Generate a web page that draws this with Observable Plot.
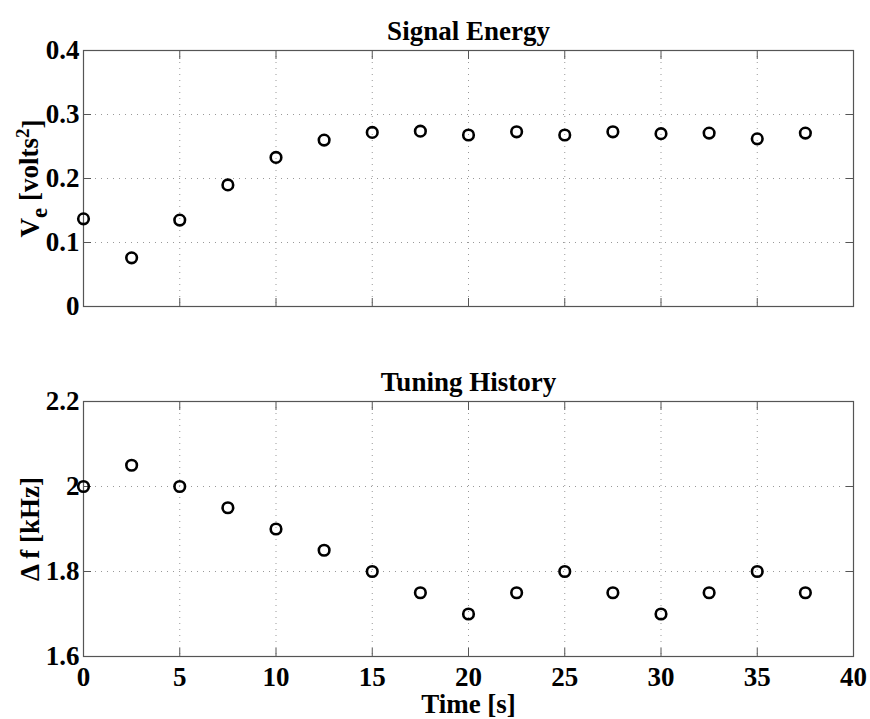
<!DOCTYPE html>
<html>
<head>
<meta charset="utf-8">
<script src="https://cdn.jsdelivr.net/npm/d3@7"></script>
<script src="https://cdn.jsdelivr.net/npm/@observablehq/plot@0.6"></script>
<style>
  body { margin: 0; background: white; }
  #chart svg { display: block; }
</style>
</head>
<body>
<div id="chart"></div>
<script>
// ---- data ----
const time = [0, 2.5, 5, 7.5, 10, 12.5, 15, 17.5, 20, 22.5, 25, 27.5, 30, 32.5, 35, 37.5];
const energy = [0.137, 0.076, 0.135, 0.190, 0.233, 0.260, 0.272, 0.274, 0.268, 0.273, 0.268, 0.273, 0.270, 0.271, 0.262, 0.271];
const tuning = [2.0, 2.05, 2.0, 1.95, 1.9, 1.85, 1.8, 1.75, 1.7, 1.75, 1.8, 1.75, 1.7, 1.75, 1.8, 1.75];
const xTicks = [0, 5, 10, 15, 20, 25, 30, 35, 40];
const energyTicks = [0, 0.1, 0.2, 0.3, 0.4];
const tuningTicks = [1.6, 1.8, 2.0, 2.2];
const titles = ["Signal Energy", "Tuning History"];
const yLabels = ["Ve [volts2]", "Δ f [kHz]"];
const xLabel = "Time [s]";

const FONT = "'Liberation Serif', 'Times New Roman', serif";
const FS = 27;
const TICK = 8;

function panel({data, yKey, yDomain, yTicks, title, ylabel, showX, height, marginTop, marginBottom}) {
  const inner = (arr) => arr.slice(1, -1);
  const fmt = d => String(d);
  const marks = [
    Plot.gridX(inner(xTicks), {stroke: "#999", strokeOpacity: 1, strokeDasharray: "1,5", strokeWidth: 1}),
    Plot.gridY(inner(yTicks), {stroke: "#999", strokeOpacity: 1, strokeDasharray: "1,5", strokeWidth: 1}),
    Plot.axisX({anchor: "bottom", ticks: xTicks, tickSize: TICK, dy: -TICK, tickPadding: 10, label: null,
      tickFormat: showX ? fmt : () => "", stroke: "#555", fontSize: FS, fontWeight: "bold", fill: "black", fontFamily: FONT}),
    Plot.axisX({anchor: "top", ticks: xTicks, tickSize: TICK, dy: TICK, tickFormat: () => "", stroke: "#555", label: null}),
    Plot.axisY({anchor: "left", ticks: yTicks, tickSize: TICK, dx: TICK, tickPadding: 4, label: null,
      tickFormat: fmt, stroke: "#555", fontSize: FS, fontWeight: "bold", fill: "black", fontFamily: FONT}),
    Plot.axisY({anchor: "right", ticks: yTicks, tickSize: TICK, dx: -TICK, tickFormat: () => "", stroke: "#555", label: null}),
    Plot.frame({stroke: "#555", strokeWidth: 1.2}),
    Plot.dot(data, {x: "t", y: yKey, r: 5.3, stroke: "black", strokeWidth: 2.6, fill: "none"}),
    Plot.text([title], {frameAnchor: "top", dy: -30, fontSize: FS, fontWeight: "bold", fill: "black"}),
    Plot.text([ylabel], {frameAnchor: "left", textAnchor: "middle", rotate: -90, dx: -53, fontSize: FS, fontWeight: "bold", fill: "black"})
  ];
  if (showX) {
    marks.push(Plot.text([xLabel], {frameAnchor: "bottom", dy: 56, fontSize: FS, fontWeight: "bold", fill: "black"}));
  }
  return Plot.plot({
    width: 870,
    height,
    marginTop,
    marginBottom,
    marginLeft: 83,
    marginRight: 17,
    x: {domain: [0, 40], axis: null},
    y: {domain: yDomain, axis: null},
    style: {fontFamily: FONT, fontSize: FS + "px", background: "white", color: "black", overflow: "visible"},
    marks
  });
}

const rows = time.map((t, i) => ({t, e: energy[i], f: tuning[i]}));

const topPanel = panel({data: rows, yKey: "e", yDomain: [0, 0.4], yTicks: energyTicks,
  title: titles[0], ylabel: yLabels[0], showX: false, height: 340, marginTop: 50, marginBottom: 34});
const bottomPanel = panel({data: rows, yKey: "f", yDomain: [1.6, 2.2], yTicks: tuningTicks,
  title: titles[1], ylabel: yLabels[1], showX: true, height: 379, marginTop: 61, marginBottom: 63});

const chart = document.getElementById("chart");
chart.append(topPanel, bottomPanel);

// subscript / superscript for the energy label
d3.select(topPanel).selectAll("text").each(function() {
  if (this.textContent === yLabels[0]) {
    const t = d3.select(this);
    t.text(null);
    t.append("tspan").text("V");
    t.append("tspan").attr("dy", "0.35em").attr("font-size", "0.85em").text("e");
    t.append("tspan").attr("dy", "-0.35em").text(" [volts");
    t.append("tspan").attr("dy", "-0.45em").attr("font-size", "0.7em").text("2");
    t.append("tspan").attr("dy", "0.45em").text("]");
  }
});
</script>
</body>
</html>
